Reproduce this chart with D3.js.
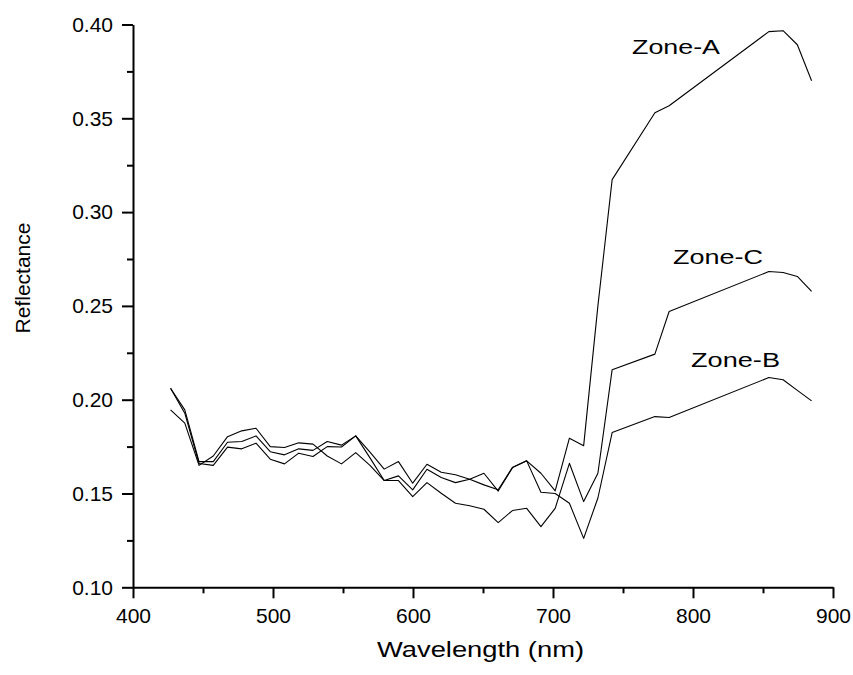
<!DOCTYPE html>
<html>
<head>
<meta charset="utf-8">
<script src="https://cdn.jsdelivr.net/npm/d3@7"></script>
<style>
  body { margin: 0; background: #fff; }
  svg text { font-family: Arial, "Liberation Sans", sans-serif; fill: #000; }
</style>
</head>
<body>
<div id="chart"></div>
<script>
// band centres (nm)
const wavelengths = [426.82, 436.99, 447.17, 457.34, 467.52, 477.69, 487.87, 498.04, 508.22, 518.39,
  528.57, 538.74, 548.92, 559.09, 569.27, 579.45, 589.62, 599.80, 609.97, 620.15,
  630.32, 640.50, 650.67, 660.85, 671.02, 681.20, 691.37, 701.55, 711.72, 721.90,
  732.07, 742.25, 772.78, 782.95, 854.18, 864.35, 874.53, 884.70];

const zoneA = [0.2061, 0.1946, 0.167, 0.167, 0.1773, 0.1777, 0.1807, 0.1723, 0.1706, 0.1738,
  0.173, 0.1777, 0.1758, 0.1807, 0.172, 0.163, 0.167, 0.1555, 0.1656, 0.1613,
  0.160, 0.1576, 0.1608, 0.1513, 0.1638, 0.1674, 0.1608, 0.1514, 0.1795, 0.1755,
  0.25, 0.3173, 0.353, 0.3567, 0.3962, 0.3967, 0.3892, 0.370];

const zoneB = [0.2061, 0.1928, 0.166, 0.165, 0.1747, 0.1738, 0.1768, 0.1683, 0.1658, 0.1715,
  0.1697, 0.175, 0.1748, 0.1807, 0.169, 0.1569, 0.1594, 0.1519, 0.1629, 0.1585,
  0.1558, 0.1576, 0.1546, 0.152, 0.1638, 0.1674, 0.1507, 0.150, 0.1448, 0.1261,
  0.1476, 0.1825, 0.191, 0.1905, 0.2118, 0.2106, 0.205, 0.1994];

const zoneC = [0.1946, 0.1875, 0.165, 0.170, 0.1803, 0.1834, 0.1848, 0.175, 0.1745, 0.177,
  0.1763, 0.170, 0.1658, 0.1718, 0.165, 0.1569, 0.1569, 0.1483, 0.1558, 0.1501,
  0.1448, 0.1435, 0.1416, 0.1345, 0.1409, 0.1421, 0.1323, 0.1421, 0.1661, 0.1457,
  0.1608, 0.216, 0.2243, 0.247, 0.2683, 0.2678, 0.2657, 0.2577];

const seriesNames = ["Zone-A", "Zone-B", "Zone-C"];
const xTicks = [400, 500, 600, 700, 800, 900];
const xMinor = [450, 550, 650, 750, 850];
const yTicks = [0.10, 0.15, 0.20, 0.25, 0.30, 0.35, 0.40];
const yMinor = [0.125, 0.175, 0.225, 0.275, 0.325, 0.375];

function init() {
  const width = 853, height = 675;
  const x0 = 133, x1 = 833, y0 = 587.3, y1 = 24.5;

  const svg = d3.select("#chart").append("svg")
    .attr("width", width)
    .attr("height", height);

  const x = d3.scaleLinear().domain([400, 900]).range([x0, x1]);
  const y = d3.scaleLinear().domain([0.10, 0.40]).range([y0, y1]);

  // minor ticks first, then major axes on top
  svg.append("g")
    .attr("transform", `translate(0,${y0})`)
    .call(d3.axisBottom(x).tickValues(xMinor).tickSize(6).tickFormat(""))
    .call(g => g.select(".domain").remove());
  svg.append("g")
    .attr("transform", `translate(${x0},0)`)
    .call(d3.axisLeft(y).tickValues(yMinor).tickSize(6).tickFormat(""))
    .call(g => g.select(".domain").remove());

  const xAxis = svg.append("g")
    .attr("transform", `translate(0,${y0})`)
    .call(d3.axisBottom(x).tickValues(xTicks).tickSize(11).tickSizeOuter(0).tickPadding(10).tickFormat(d3.format("d")));
  const yAxis = svg.append("g")
    .attr("transform", `translate(${x0},0)`)
    .call(d3.axisLeft(y).tickValues(yTicks).tickSize(11).tickSizeOuter(0).tickPadding(9).tickFormat(d3.format(".2f")));

  [xAxis, yAxis].forEach(ax => {
    ax.selectAll("text").style("font-size", "21px").attr("font-family", null);
    ax.selectAll("line, path").attr("stroke", "#000").attr("stroke-width", 2);
  });
  svg.selectAll("g .tick line").attr("stroke", "#000").attr("stroke-width", 2);

  // axis titles
  svg.append("text")
    .attr("x", 377).attr("y", 657)
    .attr("textLength", 207).attr("lengthAdjust", "spacingAndGlyphs")
    .style("font-size", "22px")
    .text("Wavelength (nm)");

  svg.append("text")
    .attr("transform", "translate(29.5,278) rotate(-90)")
    .attr("text-anchor", "middle")
    .style("font-size", "21px")
    .text("Reflectance");

  // lines
  const line = d3.line()
    .x((d, i) => x(wavelengths[i]))
    .y(d => y(d));

  [zoneA, zoneB, zoneC].forEach(vals => {
    svg.append("path")
      .datum(vals)
      .attr("fill", "none")
      .attr("stroke", "#000")
      .attr("stroke-width", 1.1)
      .attr("stroke-linejoin", "round")
      .attr("d", line);
  });

  // zone labels
  const labels = [
    { name: seriesNames[0], x: 632, y: 53.5, len: 88 },
    { name: seriesNames[2], x: 673, y: 264, len: 90 },
    { name: seriesNames[1], x: 691, y: 366.5, len: 89 }
  ];
  labels.forEach(l => {
    svg.append("text")
      .attr("x", l.x).attr("y", l.y)
      .attr("textLength", l.len).attr("lengthAdjust", "spacingAndGlyphs")
      .style("font-size", "20px")
      .text(l.name);
  });
}

window.onload = init;
</script>
</body>
</html>
